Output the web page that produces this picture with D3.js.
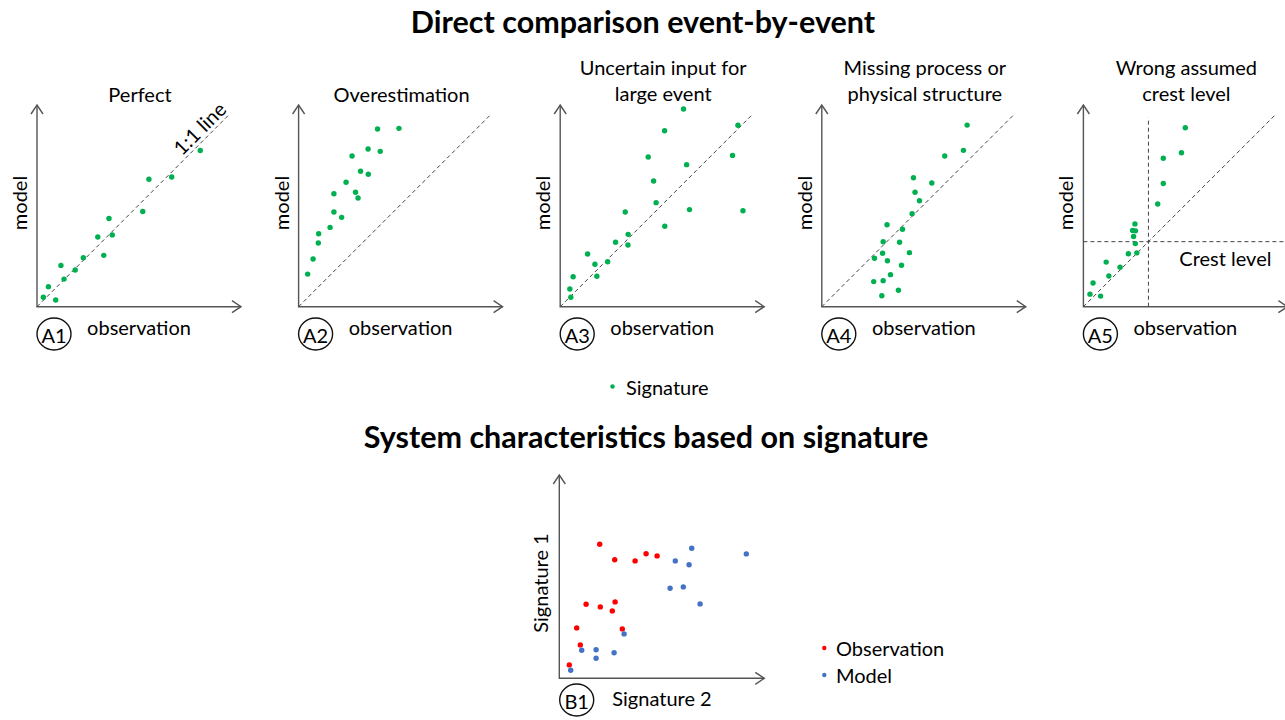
<!DOCTYPE html>
<html>
<head>
<meta charset="utf-8">
<script src="https://cdn.jsdelivr.net/npm/d3@7"></script>
<style>
  body { margin: 0; background: #fff; }
  text { font-family: Lato, "Open Sans", sans-serif; fill: #000; }
</style>
</head>
<body>
<svg id="chart" width="1285" height="720"></svg>
<script>
// ---- Data (arbitrary units, 0–100 along each axis) ----
const panelIds = ["A1", "A2", "A3", "A4", "A5"];
const panelTitles = [
  ["Perfect"],
  ["Overestimation"],
  ["Uncertain input for", "large event"],
  ["Missing process or", "physical structure"],
  ["Wrong assumed", "crest level"]
];

const perfectObs   = [3.3, 5.9, 9.7, 12.4, 14.0, 19.8, 24.0, 31.5, 34.6, 37.3, 39.0, 54.8, 58.0, 69.8, 84.6];
const perfectModel = [4.9, 10.4, 3.5, 21.4, 14.3, 19.0, 25.4, 36.1, 26.6, 45.7, 37.2, 49.3, 66.0, 67.2, 80.9];

const overObs   = [4.7, 7.5, 10.2, 10.4, 16.3, 18.3, 22.3, 18.3, 24.6, 29.5, 30.8, 32.1, 36.1, 27.7, 36.0, 42.3, 40.9, 52.0];
const overModel = [16.9, 24.7, 33.0, 37.8, 41.1, 49.1, 46.3, 58.5, 64.5, 59.3, 56.3, 70.2, 68.6, 78.1, 81.7, 80.5, 92.1, 92.4];

const uncertainObs   = [5.5, 5.0, 6.7, 19.0, 18.0, 14.2, 24.6, 28.7, 35.1, 35.2, 33.7, 54.2, 49.7, 48.4, 45.6, 54.1, 63.9, 65.5, 67.0, 89.3, 92.1, 94.7];
const uncertainModel = [4.9, 9.2, 15.5, 15.8, 22.0, 27.3, 23.3, 33.4, 32.0, 37.5, 49.1, 41.7, 53.9, 65.1, 77.6, 91.2, 102.4, 73.6, 50.3, 78.4, 94.0, 49.7];

const missingObs   = [31.1, 39.7, 26.9, 31.8, 35.6, 41.3, 34.0, 27.3, 31.5, 45.4, 40.3, 31.8, 41.8, 33.8, 46.8, 50.6, 48.3, 47.5, 57.0, 63.7, 73.4, 75.3];
const missingModel = [5.7, 8.5, 13.0, 13.5, 16.6, 21.5, 23.8, 25.1, 27.7, 28.0, 33.4, 33.7, 40.1, 42.5, 48.2, 54.9, 59.3, 66.8, 64.1, 78.1, 81.0, 94.1];

const crestObs   = [3.4, 8.9, 5.0, 13.2, 11.8, 19.0, 23.3, 27.7, 26.9, 26.0, 25.5, 27.0, 26.7, 38.5, 41.4, 41.4, 50.8, 52.8];
const crestModel = [6.5, 5.5, 12.3, 15.9, 23.1, 20.5, 27.4, 27.9, 32.7, 36.4, 39.5, 39.3, 42.9, 53.2, 63.8, 76.9, 79.8, 92.7];
const crestLevel = 33.7;

const panelObs   = [perfectObs, overObs, uncertainObs, missingObs, crestObs];
const panelModel = [perfectModel, overModel, uncertainModel, missingModel, crestModel];

// Signature space: Signature 2 (x) vs Signature 1 (y)
const obsSig2 = [5.0, 10.5, 8.7, 13.4, 20.5, 26.5, 27.9, 31.5, 20.2, 27.7, 37.9, 43.4, 48.9];
const obsSig1 = [6.7, 16.7, 25.2, 37.0, 35.7, 33.7, 38.2, 24.7, 67.0, 59.3, 58.7, 62.3, 61.2];
const modSig2 = [5.7, 11.2, 18.4, 18.4, 27.4, 32.4, 55.4, 62.0, 70.4, 58.0, 64.9, 66.2, 93.5];
const modSig1 = [4.0, 14.0, 14.3, 10.0, 12.8, 22.2, 45.0, 45.7, 37.2, 58.7, 56.8, 65.0, 62.2];

const legendA = ["Signature"];
const legendB = ["Observation", "Model"];

// ---- Styles ----
const GREEN = "#00b050", RED = "#ff0000", BLUE = "#4472c4";
const AXIS = "#555", DASH = "#444";
const FS = "20px";

const svg = d3.select("#chart");

// Titles
svg.append("text").attr("x", 643).attr("y", 21)
  .attr("text-anchor", "middle").attr("dominant-baseline", "central")
  .style("font-weight", "bold").style("font-size", "30.5px")
  .text("Direct comparison event-by-event");
svg.append("text").attr("x", 646).attr("y", 436)
  .attr("text-anchor", "middle").attr("dominant-baseline", "central")
  .style("font-weight", "bold").style("font-size", "30.5px")
  .text("System characteristics based on signature");

// Axes with open arrowheads
function arrowAxes(g, ox, oy, xEnd, yTop) {
  g.append("path")
    .attr("d", `M${ox},${yTop}V${oy}H${xEnd}`)
    .attr("fill", "none").attr("stroke", AXIS).attr("stroke-width", 1.4);
  g.append("path")
    .attr("d", `M${ox - 6},${yTop + 9}L${ox},${yTop}L${ox + 6},${yTop + 9}`)
    .attr("fill", "none").attr("stroke", AXIS).attr("stroke-width", 1.4);
  g.append("path")
    .attr("d", `M${xEnd - 9},${oy - 6}L${xEnd},${oy}L${xEnd - 9},${oy + 6}`)
    .attr("fill", "none").attr("stroke", AXIS).attr("stroke-width", 1.4);
}

function circledLabel(g, cx, cy, label) {
  g.append("ellipse").attr("cx", cx).attr("cy", cy).attr("rx", 17).attr("ry", 16)
    .attr("fill", "none").attr("stroke", "#111").attr("stroke-width", 1.4);
  g.append("text").attr("x", cx).attr("y", cy + 1)
    .attr("text-anchor", "middle").attr("dominant-baseline", "central")
    .style("font-size", FS).text(label);
}

// ---- Event-by-event panels ----
const originY = 306.7;
const unit = 1.93;
panelIds.forEach((id, i) => {
  const ox = 37 + i * 261.6;
  const g = svg.append("g");
  const x = d3.scaleLinear().domain([0, 100]).range([ox, ox + 100 * unit]);
  const y = d3.scaleLinear().domain([0, 100]).range([originY, originY - 100 * unit]);

  arrowAxes(g, ox, originY, ox + 204, 105);

  // 1:1 line
  g.append("line")
    .attr("x1", x(0)).attr("y1", y(0)).attr("x2", x(100)).attr("y2", y(100))
    .attr("stroke", DASH).attr("stroke-width", 1).attr("stroke-dasharray", "4,3");

  if (id === "A1") {
    g.append("text")
      .attr("transform", `translate(${x(84)},${y(92.6)}) rotate(-45)`)
      .attr("text-anchor", "middle").attr("dominant-baseline", "central")
      .style("font-size", FS).text("1:1 line");
  }

  if (id === "A5") {
    g.append("line")
      .attr("x1", x(crestLevel)).attr("y1", y(0)).attr("x2", x(crestLevel)).attr("y2", y(98))
      .attr("stroke", DASH).attr("stroke-width", 1).attr("stroke-dasharray", "4,3");
    g.append("line")
      .attr("x1", x(0)).attr("y1", y(crestLevel)).attr("x2", 1285).attr("y2", y(crestLevel))
      .attr("stroke", DASH).attr("stroke-width", 1).attr("stroke-dasharray", "4,3");
    g.append("text").attr("x", ox + 142).attr("y", 258)
      .attr("text-anchor", "middle").attr("dominant-baseline", "central")
      .style("font-size", FS).text("Crest level");
  }

  // Title (one or two lines)
  const lines = panelTitles[i];
  lines.forEach((t, k) => {
    const ty = lines.length === 1 ? 93.5 : 67 + k * 26;
    g.append("text").attr("x", ox + 103).attr("y", ty)
      .attr("text-anchor", "middle").attr("dominant-baseline", "central")
      .style("font-size", FS).text(t);
  });

  // Axis labels
  g.append("text")
    .attr("transform", `translate(${ox - 18},203) rotate(-90)`)
    .attr("text-anchor", "middle").attr("dominant-baseline", "central")
    .style("font-size", FS).text("model");
  g.append("text").attr("x", ox + 102).attr("y", 326.5)
    .attr("text-anchor", "middle").attr("dominant-baseline", "central")
    .style("font-size", FS).text("observation");
  circledLabel(g, ox + 17, 334, id);

  // Points
  const pts = panelObs[i].map((v, k) => [v, panelModel[i][k]]);
  g.selectAll("circle.pt").data(pts).join("circle")
    .attr("class", "pt")
    .attr("cx", d => x(d[0])).attr("cy", d => y(d[1]))
    .attr("r", 2.7).attr("fill", GREEN);
});

// Legend for the event-by-event panels
svg.append("circle").attr("cx", 612.5).attr("cy", 386.5).attr("r", 2.2).attr("fill", GREEN);
svg.append("text").attr("x", 626).attr("y", 387)
  .attr("dominant-baseline", "central").style("font-size", FS).text(legendA[0]);

// ---- Signature panel ----
{
  const ox = 559.3, oy = 678.3;
  const g = svg.append("g");
  const x = d3.scaleLinear().domain([0, 100]).range([ox, ox + 200]);
  const y = d3.scaleLinear().domain([0, 100]).range([oy, oy - 200]);
  arrowAxes(g, ox, oy, 764.3, 475);

  g.append("text")
    .attr("transform", `translate(540,583) rotate(-90)`)
    .attr("text-anchor", "middle").attr("dominant-baseline", "central")
    .style("font-size", FS).text("Signature 1");
  g.append("text").attr("x", 662).attr("y", 698)
    .attr("text-anchor", "middle").attr("dominant-baseline", "central")
    .style("font-size", FS).text("Signature 2");
  circledLabel(g, 576.7, 700, "B1");

  const obsPts = obsSig2.map((v, k) => [v, obsSig1[k]]);
  const modPts = modSig2.map((v, k) => [v, modSig1[k]]);
  g.selectAll("circle.obs").data(obsPts).join("circle").attr("class", "obs")
    .attr("cx", d => x(d[0])).attr("cy", d => y(d[1])).attr("r", 2.7).attr("fill", RED);
  g.selectAll("circle.mod").data(modPts).join("circle").attr("class", "mod")
    .attr("cx", d => x(d[0])).attr("cy", d => y(d[1])).attr("r", 2.7).attr("fill", BLUE);

  const colors = [RED, BLUE];
  legendB.forEach((t, k) => {
    const ly = 648 + k * 27;
    svg.append("circle").attr("cx", 824.3).attr("cy", ly).attr("r", 2.2).attr("fill", colors[k]);
    svg.append("text").attr("x", 836).attr("y", ly)
      .attr("dominant-baseline", "central").style("font-size", FS).text(t);
  });
}
</script>
</body>
</html>
